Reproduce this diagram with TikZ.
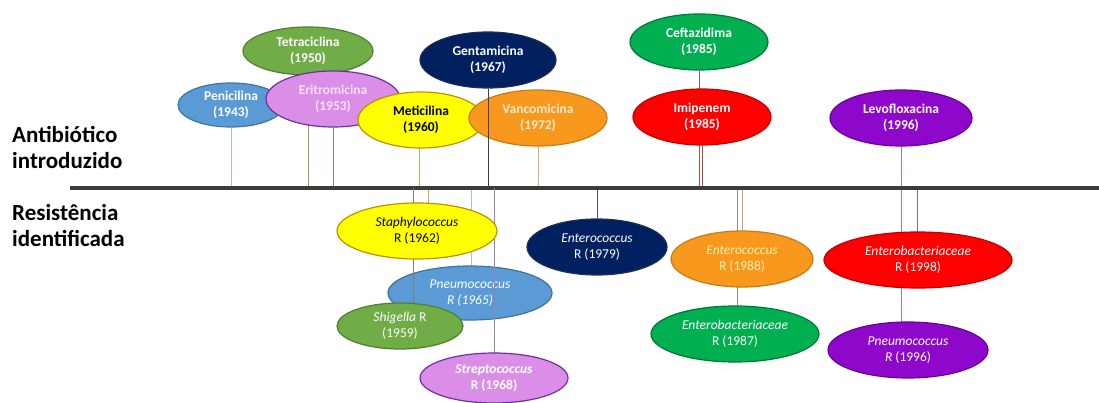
\documentclass[tikz,border=0pt]{standalone}
\usepackage{fontspec}
\setmainfont{Carlito}
\usetikzlibrary{shapes.geometric}
\definecolor{cBlue}{HTML}{5B9BD5}\definecolor{cBlueD}{HTML}{41719C}
\definecolor{cGreen}{HTML}{70AD47}\definecolor{cGreenD}{HTML}{507E32}
\definecolor{cViolet}{HTML}{DA8EE8}\definecolor{cVioletD}{HTML}{7030A0}
\definecolor{cYellow}{HTML}{FFFF00}\definecolor{cYellowD}{HTML}{BF9000}
\definecolor{cNavy}{HTML}{002060}\definecolor{cNavyD}{HTML}{1F3050}
\definecolor{cOrange}{HTML}{F8991D}\definecolor{cOrangeD}{HTML}{C77B12}
\definecolor{cGreenB}{HTML}{00B050}\definecolor{cGreenBD}{HTML}{00783A}
\definecolor{cRed}{HTML}{FF0000}\definecolor{cRedD}{HTML}{C00000}
\definecolor{cPurple}{HTML}{8E08CB}\definecolor{cPurpleD}{HTML}{6A0099}
\definecolor{tPink}{HTML}{F9E2FC}\definecolor{tPeach}{HTML}{FDEBD3}\definecolor{tLemon}{HTML}{FFEFB0}
\definecolor{lPen}{HTML}{9DC3E6}\definecolor{lTet}{HTML}{A89060}\definecolor{lEri}{HTML}{9A7AAA}
\definecolor{lMet}{HTML}{C9A55A}\definecolor{lGen}{HTML}{404040}\definecolor{lVan}{HTML}{D9AE80}
\definecolor{lCef}{HTML}{7F6050}\definecolor{lImi}{HTML}{B04040}\definecolor{lLevo}{HTML}{9C7CA8}
\definecolor{lShi}{HTML}{808070}\definecolor{lStr}{HTML}{9C80B0}\definecolor{lEnt}{HTML}{505050}
\definecolor{lEb}{HTML}{909080}\definecolor{lEntO}{HTML}{D9A070}\definecolor{lEbR}{HTML}{B05A6A}
\definecolor{axisC}{HTML}{3C3C3C}
\pgfdeclarelayer{background}
\pgfsetlayers{background,main}
\tikzset{
  bub/.style 2 args={ellipse, inner sep=0pt, minimum width=#1, minimum height=#2,
    line width=1.2pt, align=center, font=\fontsize{13.5}{16}\selectfont},
  topb/.style={font=\fontsize{13.5}{15.5}\selectfont\bfseries},
  botb/.style={font=\fontsize{13.5}{16}\selectfont\bfseries},
  botit/.style={font=\fontsize{13.5}{16}\selectfont\itshape},
  kBlue/.style={fill=cBlue, draw=cBlueD, text=white},
  kGreen/.style={fill=cGreen, draw=cGreenD, text=white},
  kViolet/.style={fill=cViolet, draw=cVioletD, text=tPink},
  kYellow/.style={fill=cYellow, draw=cYellowD, text=black},
  kNavy/.style={fill=cNavy, draw=cNavyD, text=white},
  kOrange/.style={fill=cOrange, draw=cOrangeD, text=tPeach},
  kGreenB/.style={fill=cGreenB, draw=cGreenBD, text=white},
  kRed/.style={fill=cRed, draw=cRedD, text=white},
  kPurple/.style={fill=cPurple, draw=cPurpleD, text=white},
  conn/.style={line width=0.8pt},
  lbl/.style={inner sep=0pt, align=left, text=black, font=\fontsize{23}{26}\selectfont\bfseries},
}
\begin{document}
\begin{tikzpicture}[x=1pt,y=-1pt]
\useasboundingbox (0,0) rectangle (1099,403);
\coordinate (axL) at (70,188);
\coordinate (axR) at (1099,188);
\coordinate (shiC) at (400,326);
\coordinate (strC) at (494,378);

% left labels
\node[lbl, anchor=north west] (ant) at (12,126) {Antibiótico\\introduzido};
\node[lbl, anchor=north west] (res) at (12,204) {Resistência\\identificada};

% top ellipses
\node[bub={106}{44}, kBlue, topb] (pen) at (231,105) {Penicilina\\(1943)};
\node[bub={130}{48}, kGreen, topb] (tet) at (308,51) {Tetraciclina\\(1950)};
\node[bub={134}{56}, kViolet, topb] (eri) at (333,99) {Eritromicina\\(1953)};
\node[bub={126}{56}, kYellow, topb] (met) at (421,120) {Meticilina\\(1960)};
\node[bub={136}{56}, kNavy, topb] (gen) at (488,60) {Gentamicina\\(1967)};
\node[bub={138}{56}, kOrange, topb] (van) at (538,118) {Vancomicina\\(1972)};
\draw[conn, lGen] (gen) -- (gen |- axL);
\node[bub={138}{56}, kGreenB, topb] (cef) at (699,42) {Ceftazidima\\(1985)};
\node[bub={138}{56}, kRed, topb] (imi) at (702,117) {Imipenem\\(1985)};
\node[bub={142}{56}, kPurple, topb] (levo) at (901,118) {Levofloxacina\\(1996)};

% bottom ellipses
\node[bub={140}{56}, kNavy] (ent79) at (597,247) {\textit{Enterococcus}\\R (1979)};
\node[bub={164}{54}, kBlue, botit] (pne) at (470,293) {Pneumococcus\\R (1965)};
\draw[conn, lShi] (shiC -| 413,0) -- (413,188);
\draw[conn, lStr] (strC) -- (strC |- axL);
\node[bub={126}{46}, kGreen] (shi) at (shiC) {\textit{Shigella} R\\(1959)};
\node[bub={148}{50}, kViolet, botb, text=white] (str) at (strC) {\textit{Streptococcus}\\R (1968)};
\node[bub={160}{56}, kYellow] (sta) at (417,231) {\textit{Staphylococcus}\\R (1962)};
\node[bub={142}{56}, kOrange, text=tLemon] (ent88) at (742,259) {\textit{Enterococcus}\\R (1988)};
\node[bub={168}{56}, kGreenB] (eb87) at (735,334) {\textit{Enterobacteriaceae}\\R (1987)};
\node[bub={188}{56}, kRed] (eb98) at (918,260) {\textit{Enterobacteriaceae}\\R (1998)};
\node[bub={160}{56}, kPurple] (pne96) at (908,350) {\textit{Pneumococcus}\\\textit{R} (1996)};

% connectors behind the ellipses
\begin{pgfonlayer}{background}
\draw[conn, lPen] (pen) -- (pen |- axL);
\draw[conn, lTet] (tet) -- (tet |- axL);
\draw[conn, lEri] (eri) -- (eri |- axL);
\draw[conn, lMet] ([xshift=-2pt]met.center) -- ([xshift=-2pt]met.center |- axL);
\draw[conn, lVan] (van) -- (van |- axL);
\draw[conn, lCef] (cef) -- (cef |- axL);
\draw[conn, lImi] (imi) -- (imi |- axL);
\draw[conn, lLevo] (levo) -- (levo |- pne96);
\draw[conn, lMet] ([xshift=11pt]sta.center) -- ([xshift=11pt]sta.center |- axL);
\draw[conn, lPen] ([xshift=1pt]pne.center) -- ([xshift=1pt]pne.center |- axL);
\draw[conn, lEnt] (ent79) -- (ent79 |- axL);
\draw[conn, lEb] ([xshift=2pt]eb87.center) -- ([xshift=2pt]eb87.center |- axL);
\draw[conn, lEntO] (ent88) -- (ent88 |- axL);
\draw[conn, lEbR] ([xshift=-1pt]eb98.center) -- ([xshift=-1pt]eb98.center |- axL);
\draw[line width=4pt, axisC] (axL) -- (axR);
\end{pgfonlayer}
\end{tikzpicture}
\end{document}
